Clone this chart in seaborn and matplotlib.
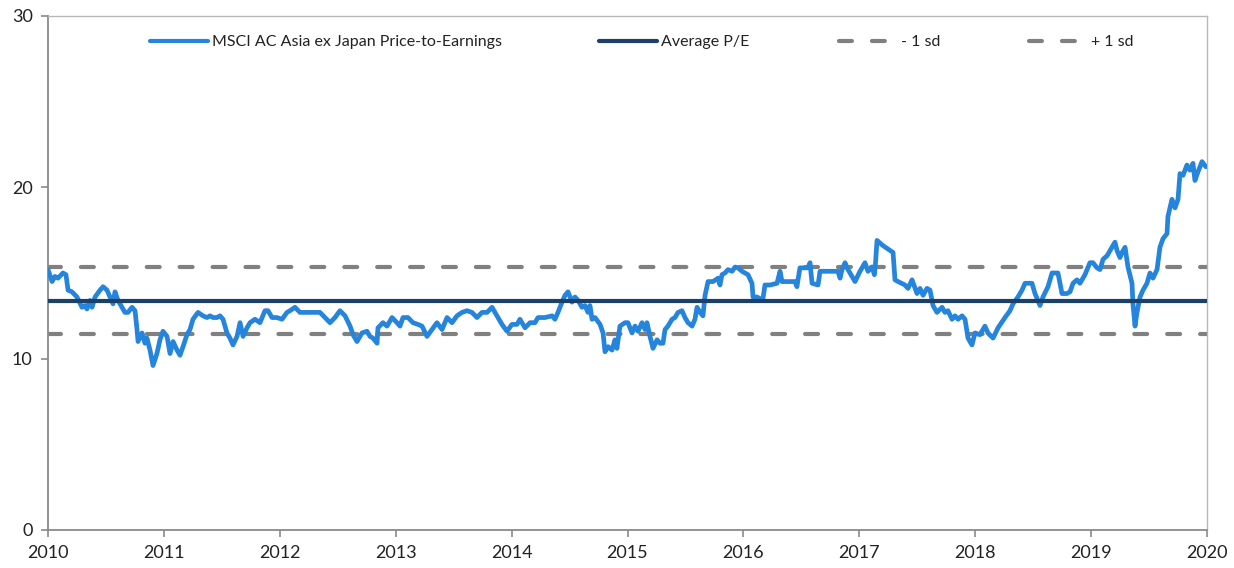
import matplotlib
matplotlib.use("Agg")
import matplotlib.pyplot as plt
import seaborn as sns
import pandas as pd
from matplotlib.lines import Line2D
from matplotlib.legend import Legend

# ---------------- data ----------------
years = [
    2010.000, 2010.035, 2010.060, 2010.086, 2010.129, 2010.155, 2010.173, 2010.207, 2010.250, 2010.293,
    2010.319, 2010.336, 2010.362, 2010.380, 2010.406, 2010.449, 2010.475, 2010.509, 2010.535, 2010.561,
    2010.578, 2010.604, 2010.638, 2010.664, 2010.690, 2010.725, 2010.751, 2010.768, 2010.777, 2010.811,
    2010.837, 2010.854, 2010.880, 2010.906, 2010.940, 2010.966, 2010.992, 2011.027, 2011.053, 2011.079,
    2011.113, 2011.139, 2011.165, 2011.199, 2011.225, 2011.251, 2011.294, 2011.337, 2011.372, 2011.398,
    2011.424, 2011.458, 2011.484, 2011.510, 2011.544, 2011.570, 2011.596, 2011.631, 2011.657, 2011.683,
    2011.717, 2011.743, 2011.786, 2011.829, 2011.872, 2011.898, 2011.933, 2011.976, 2012.019, 2012.062,
    2012.088, 2012.131, 2012.174, 2012.235, 2012.286, 2012.347, 2012.390, 2012.433, 2012.476, 2012.519,
    2012.563, 2012.606, 2012.632, 2012.666, 2012.709, 2012.752, 2012.778, 2012.804, 2012.839, 2012.847,
    2012.890, 2012.925, 2012.968, 2013.011, 2013.037, 2013.063, 2013.106, 2013.149, 2013.192, 2013.227,
    2013.270, 2013.313, 2013.356, 2013.400, 2013.443, 2013.486, 2013.529, 2013.572, 2013.615, 2013.658,
    2013.701, 2013.745, 2013.788, 2013.831, 2013.874, 2013.917, 2013.960, 2014.003, 2014.047, 2014.072,
    2014.116, 2014.159, 2014.202, 2014.228, 2014.288, 2014.349, 2014.374, 2014.400, 2014.435, 2014.461,
    2014.487, 2014.521, 2014.547, 2014.573, 2014.607, 2014.633, 2014.659, 2014.676, 2014.694, 2014.720,
    2014.763, 2014.789, 2014.806, 2014.832, 2014.866, 2014.892, 2014.909, 2014.935, 2014.978, 2015.004,
    2015.039, 2015.065, 2015.091, 2015.125, 2015.151, 2015.168, 2015.194, 2015.220, 2015.255, 2015.280,
    2015.306, 2015.324, 2015.349, 2015.384, 2015.410, 2015.436, 2015.470, 2015.496, 2015.522, 2015.557,
    2015.582, 2015.600, 2015.626, 2015.651, 2015.669, 2015.695, 2015.738, 2015.781, 2015.798, 2015.815,
    2015.841, 2015.867, 2015.902, 2015.928, 2015.953, 2015.988, 2016.014, 2016.040, 2016.074, 2016.083,
    2016.117, 2016.143, 2016.169, 2016.186, 2016.230, 2016.290, 2016.316, 2016.333, 2016.445, 2016.462,
    2016.471, 2016.488, 2016.557, 2016.575, 2016.592, 2016.644, 2016.661, 2016.816, 2016.834, 2016.851,
    2016.877, 2016.894, 2016.963, 2017.006, 2017.049, 2017.075, 2017.110, 2017.130, 2017.140, 2017.153,
    2017.204, 2017.291, 2017.308, 2017.334, 2017.394, 2017.420, 2017.455, 2017.498, 2017.524, 2017.550,
    2017.584, 2017.610, 2017.636, 2017.670, 2017.714, 2017.739, 2017.765, 2017.800, 2017.826, 2017.852,
    2017.886, 2017.912, 2017.938, 2017.972, 2017.998, 2018.041, 2018.084, 2018.110, 2018.154, 2018.197,
    2018.257, 2018.300, 2018.326, 2018.369, 2018.404, 2018.430, 2018.490, 2018.516, 2018.559, 2018.585,
    2018.628, 2018.663, 2018.714, 2018.749, 2018.792, 2018.818, 2018.844, 2018.878, 2018.904, 2018.947,
    2018.990, 2019.016, 2019.051, 2019.077, 2019.103, 2019.137, 2019.180, 2019.206, 2019.224, 2019.249,
    2019.267, 2019.293, 2019.318, 2019.353, 2019.361, 2019.379, 2019.396, 2019.422, 2019.448, 2019.482,
    2019.508, 2019.534, 2019.569, 2019.594, 2019.620, 2019.655, 2019.663, 2019.698, 2019.724, 2019.750,
    2019.767, 2019.793, 2019.827, 2019.853, 2019.879, 2019.896, 2019.922, 2019.957, 2019.990,
]
pe = [
    15.2, 14.5, 14.8, 14.7, 15.0, 14.9, 14.0, 13.9, 13.6, 13.0,
    13.1, 12.9, 13.4, 13.0, 13.6, 14.0, 14.2, 14.0, 13.6, 13.2,
    13.9, 13.4, 13.0, 12.7, 12.7, 13.0, 12.8, 11.7, 11.0, 11.5,
    10.9, 11.2, 10.5, 9.6, 10.3, 11.1, 11.6, 11.3, 10.3, 11.0,
    10.5, 10.2, 10.7, 11.4, 11.7, 12.3, 12.7, 12.5, 12.4, 12.5,
    12.4, 12.4, 12.5, 12.3, 11.5, 11.2, 10.8, 11.3, 12.1, 11.3,
    11.8, 12.1, 12.3, 12.1, 12.8, 12.8, 12.4, 12.4, 12.3, 12.7,
    12.8, 13.0, 12.7, 12.7, 12.7, 12.7, 12.4, 12.1, 12.4, 12.8,
    12.5, 11.9, 11.4, 11.0, 11.5, 11.6, 11.3, 11.2, 10.9, 11.8,
    12.1, 11.9, 12.4, 12.1, 11.9, 12.4, 12.4, 12.1, 12.0, 11.9,
    11.3, 11.7, 12.1, 11.7, 12.4, 12.1, 12.5, 12.7, 12.8, 12.7,
    12.4, 12.7, 12.7, 13.0, 12.5, 12.0, 11.6, 12.0, 12.0, 12.3,
    11.8, 12.1, 12.1, 12.4, 12.4, 12.5, 12.3, 12.7, 13.3, 13.7,
    13.9, 13.3, 13.6, 13.4, 13.0, 13.1, 12.7, 13.1, 12.3, 12.4,
    12.0, 11.5, 10.4, 10.7, 10.5, 11.1, 10.6, 11.9, 12.1, 12.1,
    11.5, 11.9, 11.6, 12.1, 11.7, 12.1, 11.3, 10.6, 11.1, 10.9,
    10.9, 11.7, 11.9, 12.3, 12.4, 12.7, 12.8, 12.4, 12.1, 11.9,
    12.3, 13.0, 12.7, 12.5, 13.7, 14.5, 14.5, 14.7, 14.3, 14.9,
    15.0, 15.2, 15.1, 15.35, 15.3, 15.1, 15.0, 14.9, 14.4, 13.6,
    13.6, 13.5, 13.5, 14.3, 14.3, 14.4, 15.1, 14.5, 14.5, 14.2,
    14.6, 15.3, 15.3, 15.6, 14.4, 14.3, 15.1, 15.1, 14.7, 15.2,
    15.6, 15.3, 14.5, 15.1, 15.6, 15.1, 15.35, 14.9, 15.6, 16.9,
    16.6, 16.2, 14.6, 14.5, 14.3, 14.1, 14.6, 13.8, 14.1, 13.7,
    14.1, 14.0, 13.1, 12.7, 13.0, 12.7, 12.8, 12.3, 12.5, 12.3,
    12.5, 12.3, 11.2, 10.8, 11.5, 11.4, 11.9, 11.5, 11.2, 11.8,
    12.4, 12.8, 13.2, 13.6, 14.0, 14.4, 14.4, 13.8, 13.1, 13.6,
    14.2, 15.0, 15.0, 13.8, 13.8, 13.9, 14.4, 14.6, 14.4, 14.9,
    15.6, 15.6, 15.3, 15.2, 15.8, 16.0, 16.5, 16.8, 16.3, 15.9,
    16.2, 16.5, 15.35, 14.4, 13.2, 11.9, 12.7, 13.6, 14.0, 14.4,
    15.0, 14.7, 15.2, 16.5, 17.0, 17.3, 18.3, 19.3, 18.8, 19.3,
    20.8, 20.7, 21.3, 21.0, 21.4, 20.4, 20.9, 21.5, 21.2,
]
avg_pe = 13.37
minus_sd = 11.44
plus_sd = 15.35

series_label = "MSCI AC Asia ex Japan Price-to-Earnings"
avg_label = "Average P/E"
minus_label = "- 1 sd"
plus_label = "+ 1 sd"
x_ticks = list(range(2010, 2021))
y_ticks = [0, 10, 20, 30]

# ---------------- style ----------------
sns.set_theme(style="white")
plt.rcParams["font.family"] = ["Lato", "DejaVu Sans"]

BLUE = "#2584DC"
NAVY = "#1B406A"
GREY = "#808080"

fig = plt.figure(figsize=(12.34, 5.68), dpi=100)
ax = fig.add_axes([48 / 1234, 38 / 568, (1207 - 48) / 1234, (530 - 16) / 568])

df = pd.DataFrame({"year": years, "pe": pe})

dash_kw = dict(color=GREY, lw=3.0, dashes=(3.1, 4.8), dash_capstyle="round")
ax.axhline(plus_sd, **dash_kw, zorder=2)
ax.axhline(minus_sd, **dash_kw, zorder=2)
sns.lineplot(data=df, x="year", y="pe", ax=ax, color=BLUE, lw=3.4,
             estimator=None, sort=False, zorder=3, legend=False)
ax.axhline(avg_pe, color=NAVY, lw=3.0, zorder=4)

ax.set_xlim(2010, 2020)
ax.set_ylim(0, 30)
ax.set_xticks(x_ticks)
ax.set_xticklabels([str(t) for t in x_ticks])
ax.set_yticks(y_ticks)
ax.set_xlabel("")
ax.set_ylabel("")

for side in ["left", "bottom"]:
    ax.spines[side].set_color("#8a8a8a")
    ax.spines[side].set_linewidth(1.3)
for side in ["top", "right"]:
    ax.spines[side].set_color("#b8b8b8")
    ax.spines[side].set_linewidth(1.0)

ax.tick_params(axis="both", which="major", direction="out", length=5,
               width=1.2, color="#8a8a8a", labelsize=13, labelcolor="#222222",
               bottom=True, left=True)
ax.tick_params(axis="x", pad=6)
ax.tick_params(axis="y", pad=6)

# ---------------- legend ----------------
entries = [
    (Line2D([], [], color=BLUE, lw=3.0, solid_capstyle="round"), series_label, (150 - 48) / 1159),
    (Line2D([], [], color=NAVY, lw=3.0), avg_label, (599 - 48) / 1159),
    (Line2D([], [], **dash_kw), minus_label, (839 - 48) / 1159),
    (Line2D([], [], **dash_kw), plus_label, (1029 - 48) / 1159),
]
for handle, label, xf in entries:
    leg = Legend(ax, [handle], [label], loc="center left",
                 bbox_to_anchor=(xf, (530 - 42) / 514), frameon=False,
                 borderpad=0, borderaxespad=0, handlelength=3.6,
                 handletextpad=0.3, fontsize=11.5, labelcolor="#222222")
    ax.add_artist(leg)

fig.savefig("out.png", dpi=100)
